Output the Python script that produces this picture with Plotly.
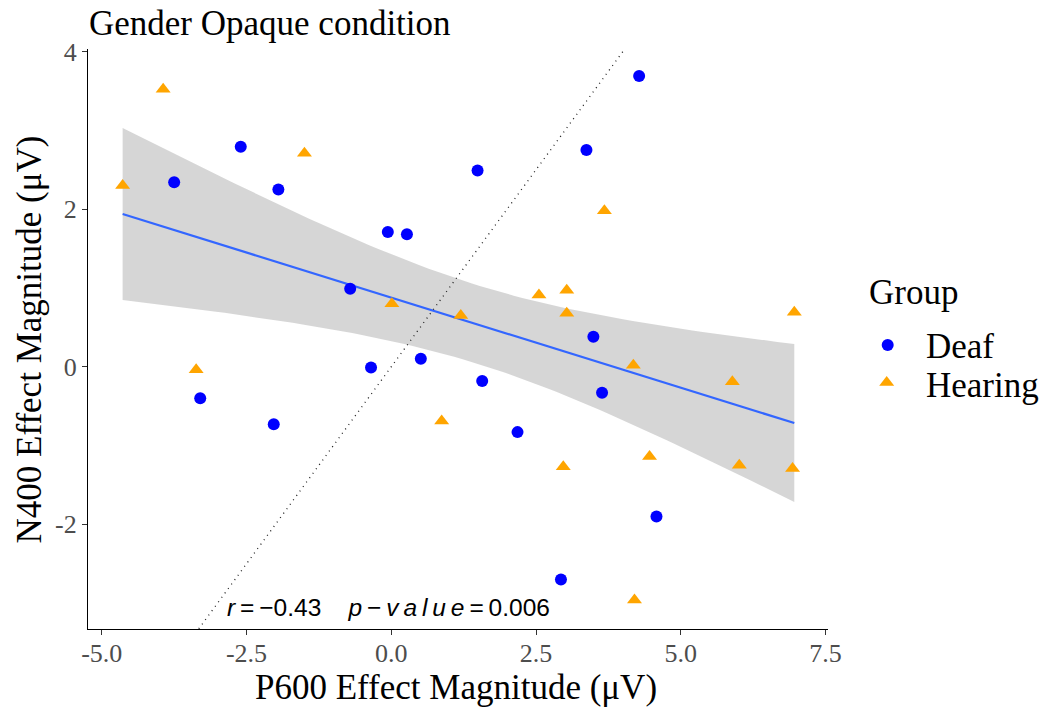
import numpy as np
import plotly.graph_objects as go

# ---- data -------------------------------------------------------------
deaf_p600 = [-3.75, -2.60, -1.95, -0.06, 0.27, -0.71, 1.49, 3.37, 4.28, 3.49,
             3.64, 0.51, -0.35, 1.57, -3.30, -2.03, 2.18, 4.58, 2.93]
deaf_n400 = [2.34, 2.79, 2.25, 1.71, 1.68, 0.99, 2.49, 2.75, 3.69, 0.38,
             -0.33, 0.10, -0.01, -0.18, -0.40, -0.73, -0.83, -1.90, -2.70]

hearing_p600 = [-4.64, -3.94, -1.50, 0.01, 1.20, 3.68, 2.55, 3.03, 3.03, 6.96,
                4.18, 5.89, 2.97, 4.46, 6.01, 6.93, 4.20, -3.37, 0.87]
hearing_n400 = [2.30, 3.52, 2.71, 0.80, 0.65, 1.98, 0.91, 0.97, 0.68, 0.69,
                0.02, -0.19, -1.27, -1.14, -1.25, -1.29, -2.96, -0.04, -0.69]

group_names = ["Deaf", "Hearing"]
x_ticks = [-5.0, -2.5, 0.0, 2.5, 5.0, 7.5]
x_tick_labels = ["-5.0", "-2.5", "0.0", "2.5", "5.0", "7.5"]
y_ticks = [-2, 0, 2, 4]
y_tick_labels = ["-2", "0", "2", "4"]
stat_r = "\u22120.43"
stat_p = "0.006"

# ---- linear fit with 95% confidence band (pooled groups) --------------
x_all = np.array(deaf_p600 + hearing_p600)
y_all = np.array(deaf_n400 + hearing_n400)
n = len(x_all)
slope, intercept = np.polyfit(x_all, y_all, 1)
resid = y_all - (slope * x_all + intercept)
s = np.sqrt(np.sum(resid ** 2) / (n - 2))
sxx = np.sum((x_all - x_all.mean()) ** 2)
t_crit = 2.0281  # t(0.975, df = 36)
x_fit = np.linspace(x_all.min(), x_all.max(), 80)
y_fit = slope * x_fit + intercept
se_fit = s * np.sqrt(1.0 / n + (x_fit - x_all.mean()) ** 2 / sxx)
y_lo = y_fit - t_crit * se_fit
y_hi = y_fit + t_crit * se_fit

# ---- layout constants (pixels of the 1042 x 708 canvas) ---------------
W, H = 1042, 708
PX_L, PX_R, PX_T, PX_B = 88, 828, 49.2, 629.3
X_RANGE = [-5.238, 7.542]
Y_RANGE = [-3.332, 4.029]
SERIF = "Liberation Serif, Times New Roman, serif"
SANS = "Liberation Sans, Arial, sans-serif"
DEAF_COLOR = "#0000FF"
HEARING_COLOR = "#FFA500"
TRI_SIZE = 13

fig = go.Figure()

# confidence ribbon
fig.add_trace(go.Scatter(x=x_fit, y=y_lo, mode="lines", line=dict(width=0),
                         hoverinfo="skip", showlegend=False))
fig.add_trace(go.Scatter(x=x_fit, y=y_hi, mode="lines", line=dict(width=0),
                         fill="tonexty", fillcolor="rgba(153,153,153,0.4)",
                         hoverinfo="skip", showlegend=False))
# fitted line
fig.add_trace(go.Scatter(x=x_fit, y=y_fit, mode="lines",
                         line=dict(color="#3366FF", width=2.2),
                         hoverinfo="skip", showlegend=False))
# identity reference line (clipped to the panel)
fig.add_trace(go.Scatter(x=[-4, 5], y=[-4, 5], mode="lines",
                         line=dict(color="#222222", width=1.3, dash="1px,4.5px"),
                         hoverinfo="skip", showlegend=False))

# points
fig.add_trace(go.Scatter(x=deaf_p600, y=deaf_n400, mode="markers",
                         name=group_names[0],
                         marker=dict(symbol="circle", size=12, color=DEAF_COLOR,
                                     line=dict(width=0)),
                         showlegend=False))
fig.add_trace(go.Scatter(x=hearing_p600, y=hearing_n400, mode="markers",
                         name=group_names[1],
                         marker=dict(symbol="triangle-up", size=TRI_SIZE,
                                     color=HEARING_COLOR, line=dict(width=0)),
                         showlegend=False))

# legend keys on a pixel-space overlay axis
legend_key_x = [887.7, 886.7]
legend_key_y = [345.0, 382.6]
fig.add_trace(go.Scatter(x=[legend_key_x[0]], y=[legend_key_y[0]], mode="markers",
                         xaxis="x2", yaxis="y2", hoverinfo="skip", showlegend=False,
                         marker=dict(symbol="circle", size=12, color=DEAF_COLOR,
                                     line=dict(width=0))))
fig.add_trace(go.Scatter(x=[legend_key_x[1]], y=[legend_key_y[1]], mode="markers",
                         xaxis="x2", yaxis="y2", hoverinfo="skip", showlegend=False,
                         marker=dict(symbol="triangle-up", size=TRI_SIZE,
                                     color=HEARING_COLOR, line=dict(width=0))))

axis_common = dict(showgrid=False, zeroline=False, showline=True,
                   linecolor="#000000", linewidth=1.2, ticks="outside",
                   ticklen=5, tickwidth=1.1, tickcolor="#333333",
                   tickfont=dict(family=SERIF, size=26, color="#4D4D4D"),
                   automargin=False, fixedrange=True)

fig.update_layout(
    width=W, height=H,
    margin=dict(l=0, r=0, t=0, b=0),
    paper_bgcolor="white", plot_bgcolor="rgba(0,0,0,0)",
    showlegend=False,
    xaxis=dict(domain=[PX_L / W, PX_R / W], range=X_RANGE,
               tickvals=x_ticks, ticktext=x_tick_labels, anchor="y",
               ticklabelstandoff=-5, **axis_common),
    yaxis=dict(domain=[1 - PX_B / H, 1 - PX_T / H], range=Y_RANGE,
               tickvals=y_ticks, ticktext=y_tick_labels, anchor="x",
               **axis_common),
    xaxis2=dict(domain=[0, 1], range=[0, W], visible=False, anchor="y2",
                fixedrange=True),
    yaxis2=dict(domain=[0, 1], range=[H, 0], visible=False, anchor="x2",
                fixedrange=True),
)

def label(text, x, y, size, family=SERIF, xanchor="left", angle=0,
          color="#000000"):
    fig.add_annotation(text=text, x=x, y=y, xref="x2", yref="y2",
                       xanchor=xanchor, yanchor="middle", showarrow=False,
                       textangle=angle, font=dict(family=family, size=size,
                                                  color=color))

label("Gender Opaque condition", 87.3, 23.5, 35)
label("P600 Effect Magnitude (\u03bcV)", 456, 687, 35, xanchor="center")
label("N400 Effect Magnitude (\u03bcV)", 28.5, 340, 35, xanchor="center",
      angle=-90)
label("Group", 866.7, 292, 35)
label(group_names[0], 924.3, 346, 35)
label(group_names[1], 924.3, 385, 35)

thin = "\u2009"
stats_text = ("<i>r</i>" + thin + "=" + thin + stat_r + "\u00a0\u00a0\u00a0\u00a0"
              + "<i>p</i>" + thin + "\u2212" + thin
              + "<i>" + thin.join("value") + "</i>" + thin + "=" + thin + stat_p)
label(stats_text, 225, 607.5, 24.5, family=SANS)

fig.write_html("out.html")
